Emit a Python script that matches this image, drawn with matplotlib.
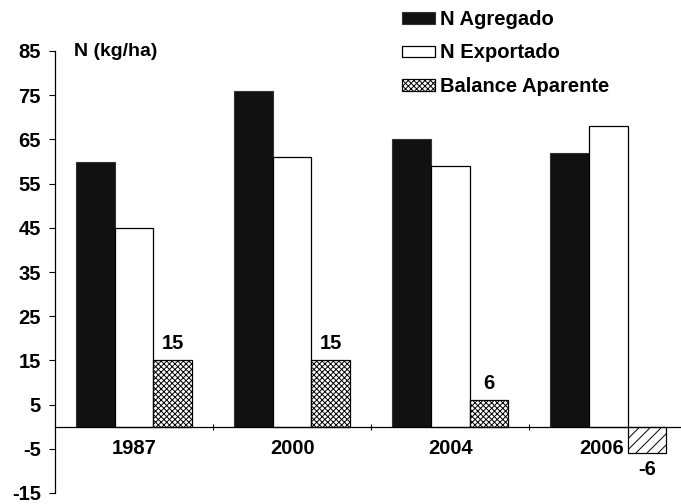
import matplotlib.pyplot as plt
import numpy as np

plt.rcParams['font.family'] = ['Liberation Sans', 'DejaVu Sans']
plt.rcParams['font.weight'] = 'bold'
plt.rcParams['hatch.linewidth'] = 0.7
plt.rcParams['axes.unicode_minus'] = False

years = ["1987", "2000", "2004", "2006"]
n_agregado = [60, 76, 65, 62]
n_exportado = [45, 61, 59, 68]
balance = [15, 15, 6, -6]

fig = plt.figure(figsize=(6.81, 5.04), dpi=100)
ax = fig.add_axes([55 / 681, 11 / 504, 1 - 55 / 681, (493 - 51) / 504])

x = np.arange(len(years))
w = 0.245

b1 = ax.bar(x - w, n_agregado, w, color="#111111", edgecolor="#333333", linewidth=0.8, label="N Agregado")
b2 = ax.bar(x, n_exportado, w, color="white", edgecolor="black", linewidth=0.9, label="N Exportado")
b3 = ax.bar(x + w, balance, w, color="white", edgecolor="black", linewidth=0.9, label="Balance Aparente")
for bar, v in zip(b3, balance):
    bar.set_hatch("xxxxxx" if v >= 0 else "///")

ax.bar_label(b3, labels=[str(v) for v in balance], padding=5, fontsize=14.5, fontweight="bold")

ax.set_ylim(-15, 85)
ax.set_xlim(-0.5, 3.46)
ax.set_yticks(range(-15, 86, 10))
ax.tick_params(axis="y", labelsize=14.5, length=4, width=0.8, pad=6)
ax.set_xticks(np.arange(0.5, 3.5, 1), minor=True)
ax.set_xticks(x)
# last label is drawn by hand, nudged left so it clears the negative bar
ax.set_xticklabels(years[:-1] + [""])
ax.tick_params(axis="x", which="major", length=0, pad=9, labelsize=14.5)
ax.tick_params(axis="x", which="minor", length=4, direction="inout", width=0.8)
ax.annotate(years[-1], xy=(x[-1], 0), xytext=(-5, -9), textcoords="offset points",
            ha="center", va="top", fontsize=14.5, fontweight="bold")

ax.spines["bottom"].set_position(("data", 0))
ax.spines["top"].set_visible(False)
ax.spines["right"].set_visible(False)
ax.spines["left"].set_linewidth(0.9)
ax.spines["bottom"].set_linewidth(0.9)

ax.text(0.03, 85, "N (kg/ha)", transform=ax.get_yaxis_transform(), fontsize=14,
        fontweight="bold", va="center", ha="left")

fig.legend(handles=[b1, b2, b3], loc="upper left", bbox_to_anchor=(402 / 681, 1 - 10 / 504),
           frameon=False, fontsize=14.5, handlelength=1.65, handleheight=0.5,
           handletextpad=0.25, labelspacing=0.72, borderpad=0, borderaxespad=0)

fig.savefig("out.png", dpi=100)
